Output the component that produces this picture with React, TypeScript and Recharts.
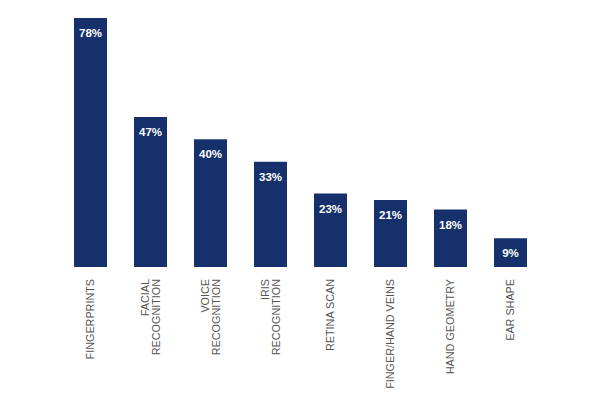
import { BarChart, Bar, XAxis, YAxis, LabelList } from "recharts";

// Biometric methods, share of respondents (%)
const methods = [
  "FINGERPRINTS",
  "FACIAL\nRECOGNITION",
  "VOICE\nRECOGNITION",
  "IRIS\nRECOGNITION",
  "RETINA SCAN",
  "FINGER/HAND VEINS",
  "HAND GEOMETRY",
  "EAR SHAPE",
];
const shares = [78, 47, 40, 33, 23, 21, 18, 9];

const data = methods.map((name, i) => ({ name, value: shares[i] }));

const BAR_COLOR = "#15306a";
const FONT = "'Liberation Sans', Arial, sans-serif";

type TickProps = {
  x?: number;
  y?: number;
  payload?: { value: string };
};

function RotatedTick(props: TickProps) {
  const lines = String(props.payload?.value ?? "").split("\n");
  const n = lines.length;
  return (
    <g transform={`translate(${props.x},${(props.y ?? 0) + 12})`}>
      <text
        transform="rotate(-90)"
        textAnchor="end"
        fill="#555"
        fontSize={10.8}
        fontFamily={FONT}
      >
        {lines.map((l, i) => (
          <tspan key={i} x={0} y={(i - (n - 1) / 2) * 11} dominantBaseline="central">
            {l}
          </tspan>
        ))}
      </text>
    </g>
  );
}

export default function App() {
  return (
    <div style={{ position: "absolute", left: 0, top: 0, width: 600, height: 407, background: "#fff" }}>
      <BarChart
        width={600}
        height={407}
        data={data}
        margin={{ top: 18, right: 60, bottom: 0, left: 60 }}
      >
        <XAxis
          dataKey="name"
          height={140}
          axisLine={false}
          tickLine={false}
          tickSize={0}
          tickMargin={0}
          interval={0}
          tick={<RotatedTick />}
        />
        <YAxis hide domain={[0, 78]} />
        <Bar dataKey="value" fill={BAR_COLOR} barSize={33} isAnimationActive={false}>
          <LabelList
            dataKey="value"
            position="insideTop"
            offset={11}
            fill="#fff"
            fontSize={11.5}
            fontWeight="bold"
            fontFamily={FONT}
            formatter={(v: number) => `${v}%`}
          />
        </Bar>
      </BarChart>
    </div>
  );
}
